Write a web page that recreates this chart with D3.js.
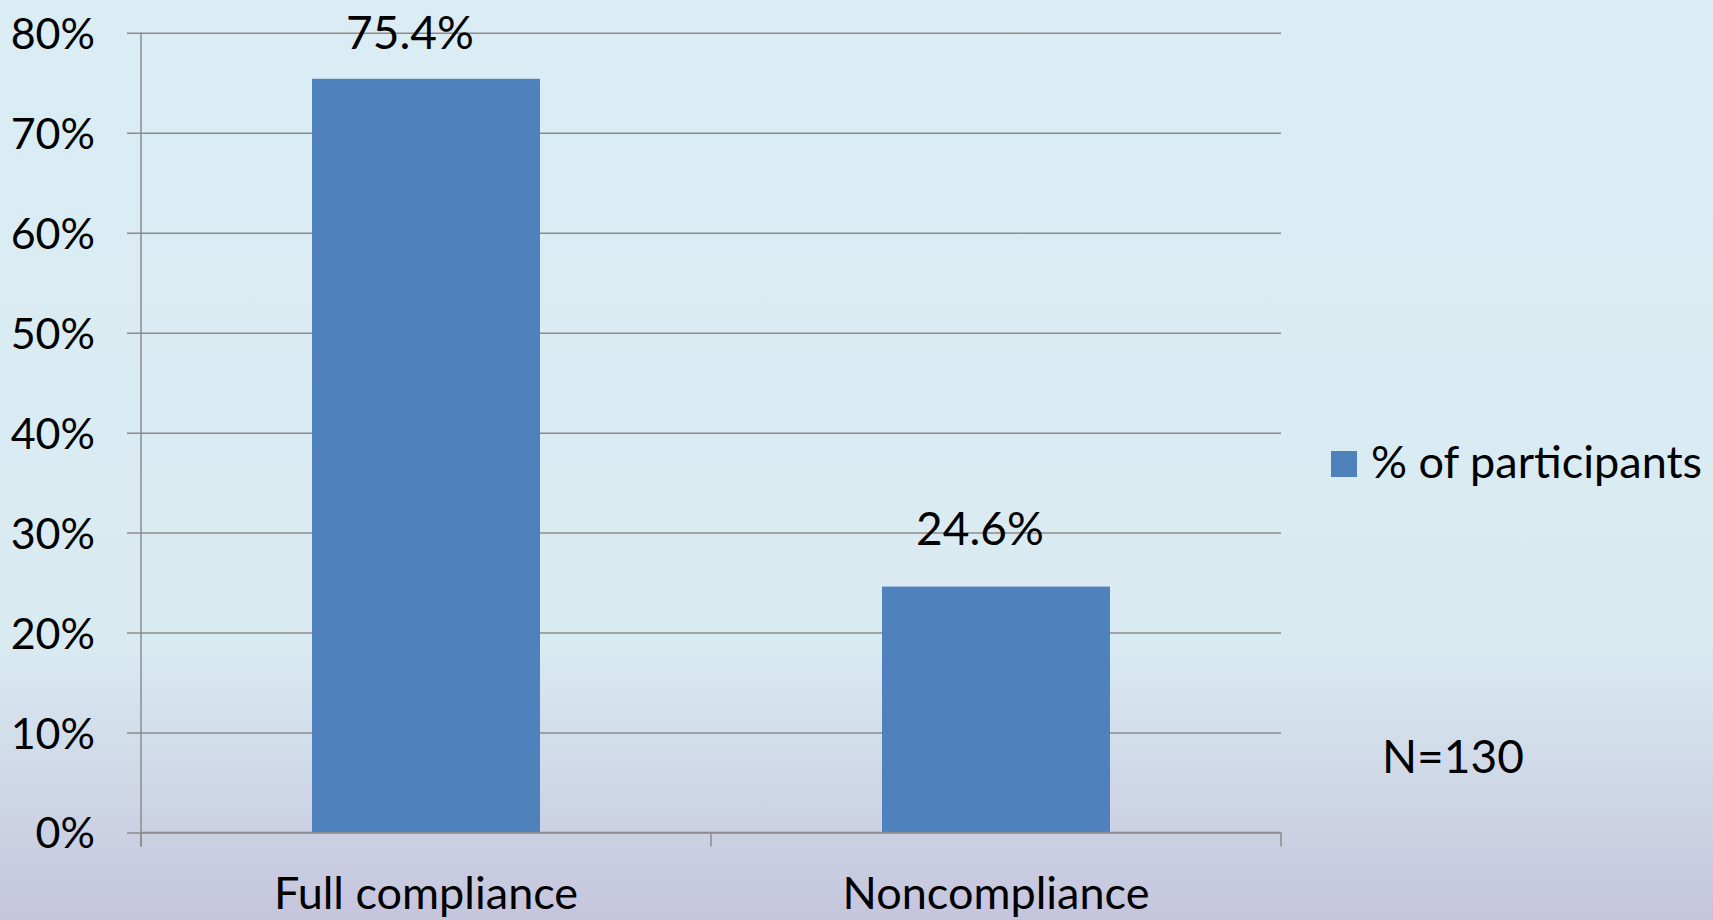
<!DOCTYPE html>
<html><head><meta charset="utf-8">
<script src="https://cdn.jsdelivr.net/npm/d3@7"></script>
<style>html,body{margin:0;padding:0;overflow:hidden;background:#dbedf4}</style>
</head><body>
<script>
const categories = ["Full compliance", "Noncompliance"];
const values = [75.4, 24.6];
const valueLabels = ["75.4%", "24.6%"];
const yTicks = [0, 10, 20, 30, 40, 50, 60, 70, 80];
const seriesName = "% of participants";
const note = "N=130";

(function(){
const W = 1713, H = 920;
const FONT = "Lato, 'Open Sans', sans-serif";
const svg = d3.select("body").append("svg").attr("width", W).attr("height", H);

const defs = svg.append("defs");
const g = defs.append("linearGradient").attr("id","bg").attr("x1",0).attr("y1",0).attr("x2",0).attr("y2",1);
g.append("stop").attr("offset","0%").attr("stop-color","#dbedf4");
g.append("stop").attr("offset","70%").attr("stop-color","#d9eaf1");
g.append("stop").attr("offset","100%").attr("stop-color","#c5c5dd");
svg.append("rect").attr("width",W).attr("height",H).attr("fill","url(#bg)");

const pLeft = 141, pRight = 1281, pTop = 32.8, pBottom = 832.5;
const x = d3.scaleBand().domain(categories).range([pLeft, pRight]).paddingInner(0.6).paddingOuter(0.3);
const y = d3.scaleLinear().domain([0, 80]).range([pBottom, pTop]);
const grid = "#8c8c8c";

const yAxis = d3.axisLeft(y).tickValues(yTicks).tickFormat(d => d + "%").tickSize(14).tickPadding(32);
const ya = svg.append("g").attr("transform", `translate(${pLeft},0)`).call(yAxis);
ya.select(".domain").remove();
ya.selectAll("line").attr("stroke", grid).attr("stroke-width", 1.5).attr("x2", pRight - pLeft).attr("x1", -14);
ya.selectAll("text").attr("font-family", FONT).attr("font-size", 43).attr("fill", "#000").attr("dy", "0.36em");
svg.append("line").attr("x1", pLeft).attr("x2", pLeft).attr("y1", pTop).attr("y2", pBottom + 14)
  .attr("stroke", grid).attr("stroke-width", 1.5);

svg.selectAll("rect.bar").data(values).join("rect").attr("class","bar")
  .attr("x", (d,i) => x(categories[i])).attr("width", x.bandwidth())
  .attr("y", d => y(d)).attr("height", d => pBottom - y(d)).attr("fill", "#4f81bd");

const xa = svg.append("g").attr("transform", `translate(0,${pBottom})`);
xa.append("line").attr("x1", pLeft).attr("x2", pRight).attr("stroke", grid).attr("stroke-width", 1.5);
const bounds = [pLeft, pLeft + x.step(), pRight];
xa.selectAll("line.tk").data(bounds).join("line").attr("class","tk")
  .attr("x1", d => d).attr("x2", d => d).attr("y1", 0).attr("y2", 14).attr("stroke", grid).attr("stroke-width", 1.5);
xa.selectAll("text").data(categories).join("text")
  .attr("x", d => x(d) + x.bandwidth()/2).attr("y", 76).attr("text-anchor","middle")
  .attr("font-family", FONT).attr("font-size", 45).attr("fill","#000").text(d => d);

svg.selectAll("text.lbl").data(values).join("text").attr("class","lbl")
  .attr("x", (d,i) => x(categories[i]) + x.bandwidth()/2 - 16)
  .attr("y", d => Math.max(y(d) - 42, 49))
  .attr("text-anchor","middle").attr("font-family", FONT).attr("font-size", 46).attr("fill","#000")
  .text((d,i) => valueLabels[i]);

svg.append("rect").attr("x", 1331).attr("y", 451).attr("width", 26).attr("height", 26).attr("fill", "#4f81bd");
svg.append("text").attr("x", 1371).attr("y", 478).attr("font-family", FONT).attr("font-size", 45).attr("fill","#000").text(seriesName);

svg.append("text").attr("x", 1382).attr("y", 773).attr("font-family", FONT).attr("font-size", 46).attr("fill","#000").text(note);
})();
</script>
</body></html>
